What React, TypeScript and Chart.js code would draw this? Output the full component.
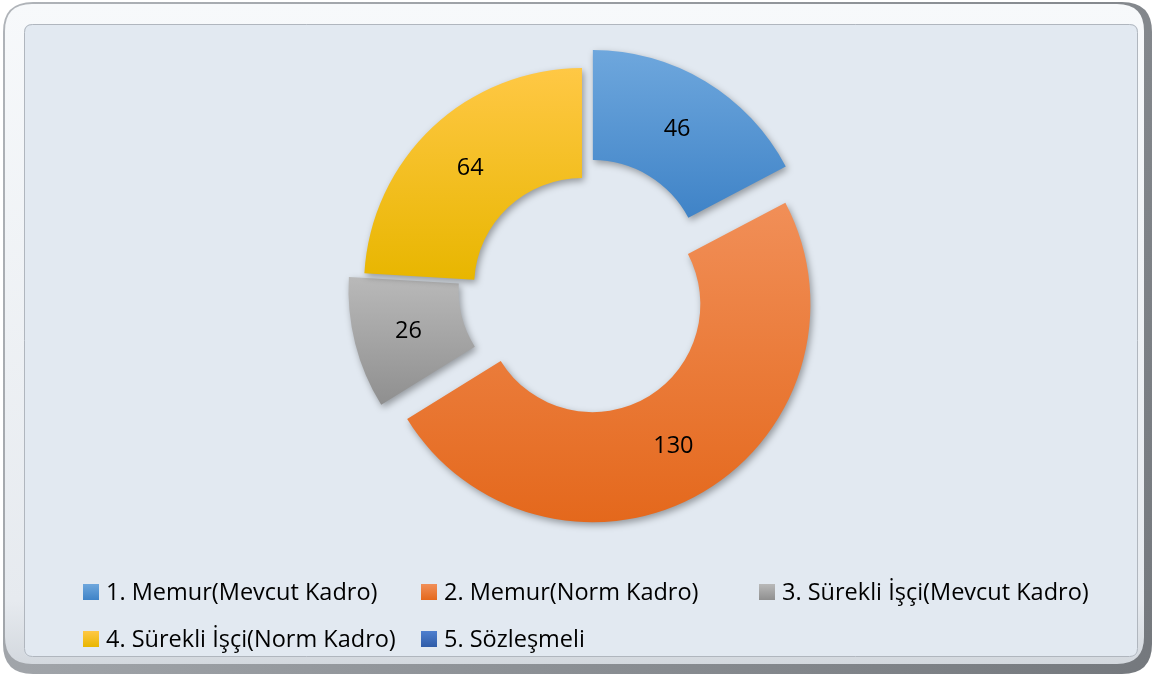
import React, { useEffect, useRef } from "react";
import { Chart, registerables } from "chart.js";

Chart.register(...registerables);

const labels = [
  "1. Memur(Mevcut Kadro)",
  "2. Memur(Norm Kadro)",
  "3. Sürekli İşçi(Mevcut Kadro)",
  "4. Sürekli İşçi(Norm Kadro)",
  "5. Sözleşmeli",
];
const values = [46, 130, 26, 64, 0];
const topColors = ["#6EA7DD", "#F18F58", "#B9B9B9", "#FFC845", "#4E7FCF"];
const bottomColors = ["#3F83C7", "#E4681C", "#8F8F8F", "#E8B600", "#2F5CA8"];
const explode = [21, 21, 16, 0, 0];

const FONT = "'Open Sans', sans-serif";
const FONT_SIZE = 23.5;

function roundRect(ctx: CanvasRenderingContext2D, x: number, y: number, w: number, h: number, r: number) {
  ctx.beginPath();
  ctx.moveTo(x + r, y);
  ctx.lineTo(x + w - r, y);
  ctx.quadraticCurveTo(x + w, y, x + w, y + r);
  ctx.lineTo(x + w, y + h - r);
  ctx.quadraticCurveTo(x + w, y + h, x + w - r, y + h);
  ctx.lineTo(x + r, y + h);
  ctx.quadraticCurveTo(x, y + h, x, y + h - r);
  ctx.lineTo(x, y + r);
  ctx.quadraticCurveTo(x, y, x + r, y);
  ctx.closePath();
}

const framePlugin = {
  id: "frame",
  beforeDraw(chart: any) {
    const ctx: CanvasRenderingContext2D = chart.ctx;
    ctx.save();
    const gOuter = ctx.createLinearGradient(0, 0, 1155, 675);
    gOuter.addColorStop(0, "#b0b4b9");
    gOuter.addColorStop(1, "#74787d");
    ctx.fillStyle = gOuter;
    roundRect(ctx, 3, 2, 1149, 672, 30);
    ctx.fill();
    const gBand = ctx.createLinearGradient(0, 4, 0, 668);
    gBand.addColorStop(0, "#f7f9fb");
    gBand.addColorStop(0.9, "#e6eaef");
    gBand.addColorStop(1, "#d2d7dd");
    ctx.fillStyle = gBand;
    roundRect(ctx, 5, 4, 1139, 660, 27);
    ctx.fill();
    ctx.fillStyle = "#E2E9F1";
    roundRect(ctx, 24, 24, 1114, 633, 8);
    ctx.fill();
    ctx.strokeStyle = "#b0b6be";
    ctx.lineWidth = 1;
    roundRect(ctx, 24.5, 24.5, 1113, 632, 8);
    ctx.stroke();
    ctx.restore();
  },
};

function sliceExtent(cx: number, cy: number, r0: number, r1: number, a0: number, a1: number) {
  let minY = Infinity;
  let maxY = -Infinity;
  const n = 60;
  for (let k = 0; k <= n; k++) {
    const a = a0 + ((a1 - a0) * k) / n;
    for (const r of [r0, r1]) {
      const yy = cy + Math.sin(a) * r;
      if (yy < minY) minY = yy;
      if (yy > maxY) maxY = yy;
    }
  }
  return [minY, maxY];
}

const arcsPlugin = {
  id: "explodedArcs",
  beforeDatasetDraw(chart: any, args: any) {
    const ctx: CanvasRenderingContext2D = chart.ctx;
    const meta = args.meta;
    meta.data.forEach((el: any, i: number) => {
      const p = el.getProps(["x", "y", "startAngle", "endAngle", "innerRadius", "outerRadius"], true);
      if (p.endAngle - p.startAngle <= 0) return;
      const mid = (p.startAngle + p.endAngle) / 2;
      const cx = p.x + Math.cos(mid) * explode[i];
      const cy = p.y + Math.sin(mid) * explode[i];
      const [y0, y1] = sliceExtent(cx, cy, p.innerRadius, p.outerRadius, p.startAngle, p.endAngle);
      const g = ctx.createLinearGradient(0, y0, 0, y1);
      g.addColorStop(0, topColors[i]);
      g.addColorStop(1, bottomColors[i]);
      ctx.save();
      ctx.shadowColor = "rgba(0,0,0,0.35)";
      ctx.shadowBlur = 7;
      ctx.shadowOffsetX = 2;
      ctx.shadowOffsetY = 3;
      ctx.fillStyle = g;
      ctx.beginPath();
      ctx.arc(cx, cy, p.outerRadius, p.startAngle, p.endAngle);
      ctx.arc(cx, cy, p.innerRadius, p.endAngle, p.startAngle, true);
      ctx.closePath();
      ctx.fill();
      ctx.restore();
    });
    return false;
  },
  afterDatasetsDraw(chart: any) {
    const ctx: CanvasRenderingContext2D = chart.ctx;
    const meta = chart.getDatasetMeta(0);
    ctx.save();
    ctx.font = `${FONT_SIZE}px ${FONT}`;
    ctx.fillStyle = "#000";
    ctx.textAlign = "center";
    ctx.textBaseline = "middle";
    meta.data.forEach((el: any, i: number) => {
      if (!values[i]) return;
      const p = el.getProps(["x", "y", "startAngle", "endAngle", "innerRadius", "outerRadius"], true);
      const mid = (p.startAngle + p.endAngle) / 2;
      const r = (p.innerRadius + p.outerRadius) / 2 + explode[i];
      ctx.fillText(String(values[i]), p.x + Math.cos(mid) * r, p.y + Math.sin(mid) * r + 1);
    });
    ctx.restore();
  },
};

const legendPlugin = {
  id: "gridLegend",
  afterDraw(chart: any) {
    const ctx: CanvasRenderingContext2D = chart.ctx;
    const colX = [83, 421, 759];
    const rowY = [592, 639];
    ctx.save();
    ctx.font = `${FONT_SIZE}px ${FONT}`;
    ctx.textBaseline = "middle";
    ctx.textAlign = "left";
    labels.forEach((lab, i) => {
      const x = colX[i % 3];
      const y = rowY[Math.floor(i / 3)];
      const g = ctx.createLinearGradient(0, y - 8, 0, y + 8);
      g.addColorStop(0, topColors[i]);
      g.addColorStop(1, bottomColors[i]);
      ctx.fillStyle = g;
      ctx.fillRect(x, y - 8, 16, 16);
      ctx.fillStyle = "#000";
      ctx.fillText(lab, x + 23, y + 1);
    });
    ctx.restore();
  },
};

export default function App() {
  const ref = useRef<HTMLCanvasElement | null>(null);
  useEffect(() => {
    if (!ref.current) return;
    const chart = new Chart(ref.current, {
      type: "doughnut",
      data: {
        labels,
        datasets: [
          {
            data: values,
            backgroundColor: topColors,
            borderWidth: 0,
          },
        ],
      },
      options: {
        responsive: false,
        animation: false,
        devicePixelRatio: 1,
        radius: 218,
        cutout: "49.5%",
        layout: { padding: { left: 40, right: 31, top: 20, bottom: 123 } },
        plugins: {
          legend: { display: false },
          tooltip: { enabled: false },
        },
      } as any,
      plugins: [framePlugin, arcsPlugin, legendPlugin],
    });
    return () => chart.destroy();
  }, []);
  return (
    <div style={{ position: "absolute", left: 0, top: 0, width: 1155, height: 675 }}>
      <canvas ref={ref} width={1155} height={675} style={{ display: "block" }} />
    </div>
  );
}
